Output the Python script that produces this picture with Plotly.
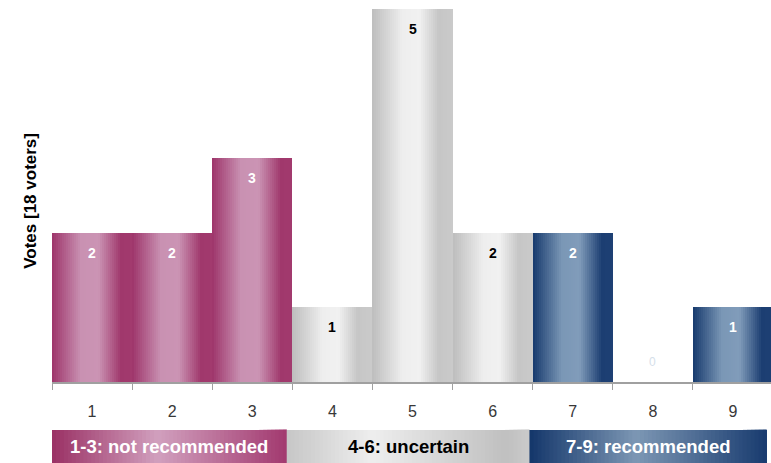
import plotly.graph_objects as go

# Rating scale and votes per score
scores = ["1", "2", "3", "4", "5", "6", "7", "8", "9"]
votes = [2, 2, 3, 1, 5, 2, 2, 0, 1]
groups = ["low", "low", "low", "mid", "mid", "mid", "high", "high", "high"]

# Group captions drawn in the band beneath the axis
band_labels = ["1-3: not recommended", "4-6: uncertain", "7-9: recommended"]
band_groups = ["low", "mid", "high"]

FONT = "Liberation Sans, Arial, sans-serif"

# Colour stops (position across the bar, colour) for the cylinder-style shading
BAR_STOPS = {
    "low": [(0.0, "#9E346A"), (0.36, "#C991B2"), (0.58, "#CB94B4"), (0.86, "#A0386C"), (1.0, "#A23A6E")],
    "mid": [(0.0, "#BDBDBD"), (0.38, "#EEEEEE"), (0.58, "#F1F1F1"), (0.82, "#C6C6C6"), (1.0, "#CACACA")],
    "high": [(0.0, "#173A6D"), (0.36, "#7A97B6"), (0.58, "#819CBA"), (0.86, "#1C3E72"), (1.0, "#1E4074")],
}
BAND_STOPS = {
    "low": [(0.0, "#9A3064"), (0.45, "#D1A0BE"), (1.0, "#A2396F")],
    "mid": [(0.0, "#C6C6C6"), (0.35, "#EEEEEE"), (0.9, "#C0C0C0"), (1.0, "#CACACA")],
    "high": [(0.0, "#13366A"), (0.45, "#7D97B4"), (1.0, "#183B6F")],
}
TEXT_COLOR = {"low": "white", "mid": "black", "high": "white"}


def hex_to_rgb(h):
    h = h.lstrip("#")
    return tuple(int(h[i:i + 2], 16) for i in (0, 2, 4))


def shade(stops, t):
    for (p0, c0), (p1, c1) in zip(stops, stops[1:]):
        if p0 <= t <= p1:
            f = 0 if p1 == p0 else (t - p0) / (p1 - p0)
            a, b = hex_to_rgb(c0), hex_to_rgb(c1)
            r = [round(a[i] + (b[i] - a[i]) * f) for i in range(3)]
            return "rgb({},{},{})".format(*r)
    return stops[-1][1]


fig = go.Figure()

# Each bar is built from overlapping strips, each starting a little further right,
# so that the colour changes smoothly across the bar width.
N = 40
for k in range(N):
    t = (k + 0.5) / N
    fig.add_trace(go.Bar(
        x=scores, y=votes,
        offset=-0.5 + k / N, width=1 - k / N,
        marker=dict(color=[shade(BAR_STOPS[g], t) for g in groups], line=dict(width=0)),
        hoverinfo="skip", showlegend=False,
    ))

# Value labels just below the top of each bar (x given as category index)
for i, (v, g) in enumerate(zip(votes, groups)):
    if v > 0:
        fig.add_annotation(x=i, y=v, yshift=-20, text=f"<b>{v}</b>", showarrow=False,
                           yanchor="middle",
                           font=dict(family=FONT, size=14, color=TEXT_COLOR[g]))
    else:
        fig.add_annotation(x=i, y=v, yshift=20, text=f"{v}", showarrow=False,
                           yanchor="middle",
                           font=dict(family=FONT, size=12, color="#D5E0EA"))

# Coloured caption band below the tick labels
band_edges = [(-0.5, 2.43), (2.43, 5.46), (5.46, 8.42)]
M = 60
for (x0, x1), g, lab in zip(band_edges, band_groups, band_labels):
    for k in range(M):
        t = (k + 0.5) / M
        fig.add_shape(type="rect", xref="x", yref="paper",
                      x0=x0 + (x1 - x0) * k / M, x1=x1, y0=-0.22, y1=-0.127,
                      fillcolor=shade(BAND_STOPS[g], t), line=dict(width=0), layer="above")
    fig.add_annotation(x=(x0 + x1) / 2, xref="x", y=-0.172, yref="paper",
                       xanchor="center", yanchor="middle",
                       text=f"<b>{lab}</b>", showarrow=False,
                       font=dict(family=FONT, size=18.5, color=TEXT_COLOR[g]))

# Axis title
fig.add_annotation(x=-0.031, xref="paper", y=0.48, yref="paper", textangle=-90,
                   xanchor="center", yanchor="middle",
                   text="<b>Votes [18 voters]</b>", showarrow=False,
                   font=dict(family=FONT, size=17, color="black"))

fig.update_layout(
    width=771, height=463,
    margin=dict(l=52, r=0, t=5, b=81),
    paper_bgcolor="white", plot_bgcolor="white",
    barmode="overlay", bargap=0,
    xaxis=dict(type="category", range=[-0.5, 8.475], tickson="boundaries",
               ticks="outside", ticklen=6, tickcolor="#A0A0A0", tickwidth=1,
               showline=True, linecolor="#A0A0A0", linewidth=1.5,
               showgrid=False, zeroline=False, ticklabelstandoff=14,
               tickfont=dict(family=FONT, size=16, color="#383838")),
    yaxis=dict(range=[0, 5.06], showticklabels=False, showgrid=False,
               zeroline=False, showline=False, ticks=""),
)

fig.write_html("out.html")
